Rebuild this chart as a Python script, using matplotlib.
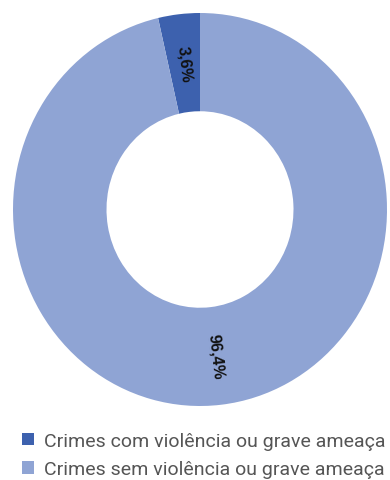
import matplotlib
matplotlib.use("Agg")
import matplotlib.pyplot as plt
import numpy as np

categories = ["Crimes com violência ou grave ameaça", "Crimes sem violência ou grave ameaça"]
values = [3.6, 96.4]
labels = ["3,6%", "96,4%"]
colors = ["#3D61AE", "#8FA4D4"]

W, H = 390, 481
fig = plt.figure(figsize=(W / 100, H / 100), dpi=100)
ax = fig.add_axes([13 / W, (H - 407) / H, 374 / W, 393 / H])

wedges, _ = ax.pie(values, colors=colors, startangle=90, counterclock=True,
                   radius=1.0, wedgeprops=dict(width=0.5, edgecolor="none"))
ax.set_aspect("auto")
ax.set_xlim(-1, 1)
ax.set_ylim(-1, 1)
ax.axis("off")

start = 90.0
for v, lab in zip(values, labels):
    ang = start + v / 100 * 360 / 2
    r = 0.75
    x, y = r * np.cos(np.radians(ang)), r * np.sin(np.radians(ang))
    rot = ang - 180 if np.sin(np.radians(ang)) > 0 else ang - 360
    ax.text(x, y, lab, rotation=rot, rotation_mode="anchor", ha="center", va="center",
            fontsize=11.5, fontweight="bold", family="Liberation Sans", color="#111111")
    start += v / 100 * 360

leg = fig.legend(wedges, categories, loc="center left", bbox_to_anchor=(22 / W, 1 - 456 / H),
                 frameon=False, handlelength=0.62, handleheight=0.62, handletextpad=0.5,
                 labelspacing=0.55, prop=dict(family="Roboto", size=14), borderaxespad=0,
                 borderpad=0)
for t in leg.get_texts():
    t.set_color("#555555")

fig.savefig("out.png", dpi=100)
